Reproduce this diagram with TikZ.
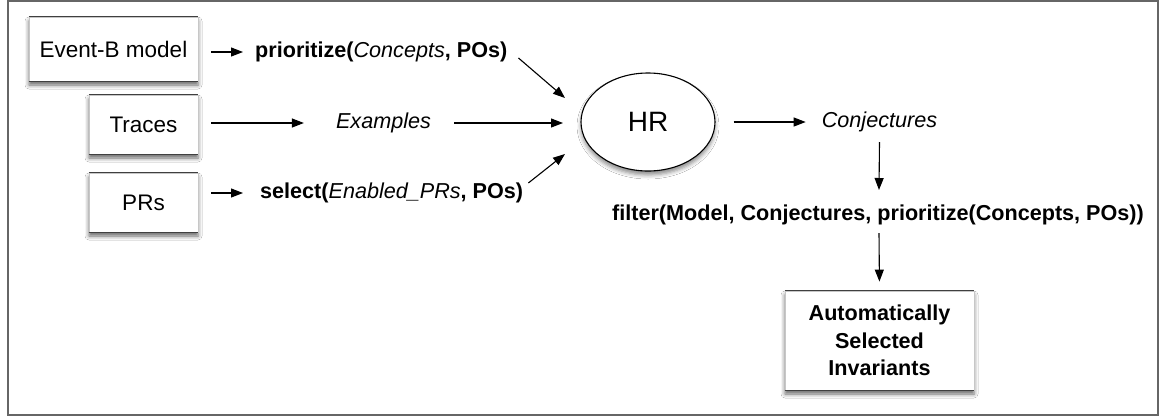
\documentclass[tikz,border=0pt]{standalone}
\usepackage{fontspec}
\setmainfont{Liberation Sans}
\usetikzlibrary{arrows.meta,shapes.geometric,shadows.blur,calc}

\begin{document}
\begin{tikzpicture}[x=1pt,y=-1pt,
  arr/.style={line width=1.1pt,-{Triangle[length=12pt,width=9pt]}},
  card/.style={draw=black!22,line width=0.8pt,fill=white,inner sep=0pt,
    blur shadow={shadow xshift=0pt,shadow yshift=-4pt,shadow opacity=60,shadow blur radius=4pt},
    font=\fontsize{22.5}{27}\selectfont},
  edge/.style={draw=black!75,line width=1pt},
  lbl/.style={inner sep=0pt,font=\fontsize{21.6}{26}\selectfont},
  bl/.style={inner sep=0pt,font=\fontsize{21.6}{27.5}\selectfont\bfseries}]

% page and outer frame
\useasboundingbox[fill=white] (0,0) rectangle (1162,416);
\draw[black!60,line width=1.3pt] (8,1) rectangle (1158,415);

% input sources
\node[card,minimum width=169pt,minimum height=64pt] (eb) at (113.5,49) {Event-B model};
\node[card,minimum width=109pt,minimum height=59pt] (tr) at (143.5,124.5) {Traces};
\node[card,minimum width=109pt,minimum height=59pt] (pr) at (143.5,202.5) {PRs};

% derived inputs
\node[lbl,anchor=west] (prio) at (255,52) {\textbf{prioritize(}\textit{Concepts}\textbf{, POs)}};
\node[lbl] (ex) at (383.5,123) {\textit{Examples}};
\node[lbl,anchor=west] (sel) at (260,193) {\textbf{select(}\textit{Enabled\_PRs}\textbf{, POs)}};

% theory formation engine
\node[ellipse,draw=black,line width=1.1pt,fill=white,minimum width=134pt,minimum height=98pt,inner sep=0pt,
  blur shadow={shadow xshift=0pt,shadow yshift=-4pt,shadow opacity=45,shadow blur radius=4pt},
  font=\fontsize{28}{32}\selectfont] (hr) at (648,122) {HR};

% outputs
\node[lbl] (conj) at (879.5,122) {\textit{Conjectures}};
\node[bl] (filt) at (878,215) {filter(Model, Conjectures, prioritize(Concepts, POs))};
\node[card,minimum width=189pt,minimum height=99pt,align=center,
  font=\fontsize{21.6}{27.5}\selectfont\bfseries] (inv) at (879.5,340.5)
  {Automatically\\Selected\\Invariants};

% darker top and bottom rules of the cards
\foreach \n in {eb,tr,pr,inv}{
  \draw[edge] (\n.north west) -- (\n.north east);
  \draw[edge] (\n.south west) -- (\n.south east);
}

% connectors
\draw[arr,shorten <=13pt,shorten >=12pt] (eb.east |- prio.west) -- (prio.west);
\draw[arr,shorten <=13pt,shorten >=32pt] (tr.east |- ex.west) -- (ex.west);
\draw[arr,shorten <=23pt] (ex.east) -- ($(hr.center)+(-85,1)$);
\draw[arr,shorten <=13pt,shorten >=17pt] (pr.east |- sel.west) -- (sel.west);
\draw[arr] ($(prio.east)+(11,6)$) -- ($(hr.center)+(-83,-24)$);
\draw[arr] ($(sel.east)+(5,-10)$) -- ($(hr.center)+(-83,32)$);
\draw[arr,shorten <=18pt,shorten >=16pt] (hr.east) -- (conj.west);
\draw[arr] ($(conj.center)+(0,20)$) -- ($(filt.center)+(1,-25)$);
\draw[arr,shorten >=9pt] ($(filt.center)+(1,18)$) -- (inv.north);
\end{tikzpicture}
\end{document}
